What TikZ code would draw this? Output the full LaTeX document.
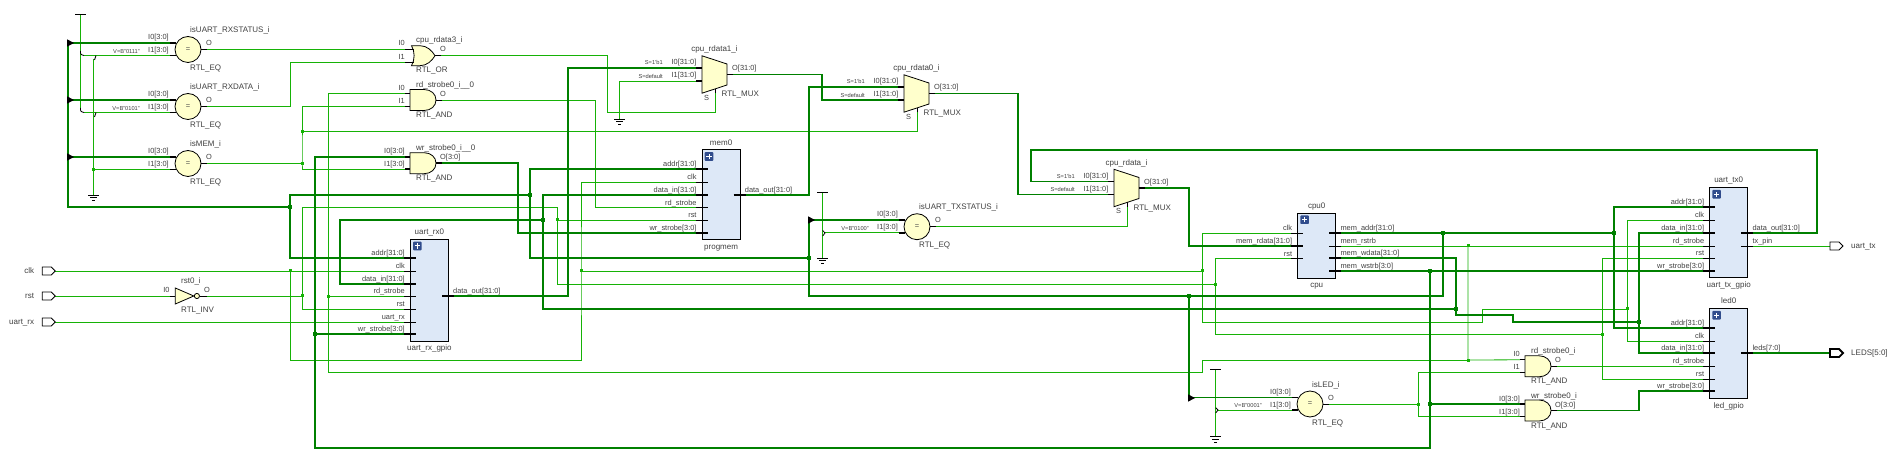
\documentclass[tikz,border=0pt]{standalone}
\usepackage{fontspec}
\setmainfont{Liberation Sans}
\usetikzlibrary{calc}
\catcode`\_=12
\pgfdeclarelayer{bg}
\pgfsetlayers{bg,main}
\definecolor{wireg}{RGB}{22,178,6}
\definecolor{busg}{RGB}{0,128,0}
\definecolor{txtg}{RGB}{64,64,64}
\definecolor{gatey}{RGB}{255,255,204}
\definecolor{blockb}{RGB}{221,232,247}
\definecolor{plusb}{RGB}{48,76,140}
\tikzset{
  x=1pt,y=-1pt,
  wire/.style={draw=wireg,line width=0.8pt,line join=miter},
  bus/.style={draw=busg,line width=1.8pt,line join=miter},
  stubthin/.style={draw=black,line width=0.8pt},
  stubthick/.style={draw=black,line width=1.8pt},
  body/.style={draw=black,line width=0.8pt,fill=gatey},
  eqbody/.style={circle,draw=black,line width=0.8pt,fill=gatey,minimum size=26pt,inner sep=0pt,text=txtg,font=\fontsize{7.5}{8}\selectfont},
  blockbody/.style={rectangle,draw=black,line width=0.8pt,fill=blockb,inner sep=0pt,anchor=north west},
  lab/.style={inner sep=0pt,text=txtg,text height=0.72em,text depth=0.2em},
  big/.style={lab,font=\fontsize{8}{9}\selectfont},
  pinl/.style={lab,font=\fontsize{7.4}{8}\selectfont},
  tiny/.style={lab,font=\fontsize{5.7}{6}\selectfont},
  jthin/.style={rectangle,fill=wireg,minimum size=3pt,inner sep=0pt},
  jbus/.style={rectangle,fill=busg,minimum size=4.4pt,inner sep=0pt},
  plusbox/.style={rectangle,rounded corners=0.8pt,fill=plusb,minimum size=8.6pt,inner sep=0pt},
  supply/.style={draw=black,line width=0.8pt},
}
% block: name, x0, y0, width, height, title, subtitle
\newcommand\bxblock[7]{%
  \node[blockbody,minimum width=#4pt,minimum height=#5pt] (#1) at (#2,#3) {};
  \node[big] (#1-t) at ([yshift=7pt]#1.north) {#6};
  \node[big] (#1-b) at ([yshift=-6.5pt]#1.south) {#7};
  \node[plusbox] (#1-p) at ([xshift=7.3pt,yshift=-7pt]#1.north west) {};
  \draw[white,line width=1pt] ([xshift=-2.6pt]#1-p.center) -- ([xshift=2.6pt]#1-p.center)
     ([yshift=-2.6pt]#1-p.center) -- ([yshift=2.6pt]#1-p.center);
}
% left pin: block, pin, x of left edge, y, label, stub style
\newcommand\bxpinl[6]{%
  \coordinate (#1-#2) at ({#3-6},#4);
  \draw[#6] (#1-#2) -- ({#3+6},#4);
  \node[pinl,anchor=east] (#1-#2-l) at ({#3-5},{#4-5}) {#5};
}
\newcommand\bxpinr[6]{%
  \coordinate (#1-#2) at ({#3+6},#4);
  \draw[#6] ({#3-6},#4) -- (#1-#2);
  \node[pinl,anchor=west] (#1-#2-l) at ({#3+5},{#4-5}) {#5};
}
% eq gate: name, x, y, title, V-label
\newcommand\eqgate[5]{%
  \begin{scope}[shift={(#2,#3)}]
    \node[eqbody] (#1) at (0,0) {=};
    \coordinate (#1-i0) at (-18,-6.5);
    \coordinate (#1-i1) at (-18,6);
    \coordinate (#1-o) at (19,0);
    \draw[stubthick] (#1-i0) -- (-12,-6.5);
    \draw[stubthick] (#1-i1) -- (-12,6);
    \draw[stubthin] (13,0) -- (#1-o);
    \node[pinl,anchor=east] (#1-l0) at (-19,-12.5) {I0[3:0]};
    \node[pinl,anchor=east] (#1-l1) at (-19,0.5) {I1[3:0]};
    \node[pinl,anchor=west] (#1-lo) at (18,-6.5) {O};
    \node[big,anchor=west] (#1-t) at (2,-19.5) {#4};
    \node[big,anchor=west] (#1-b) at (2,18.5) {RTL_EQ};
    \node[tiny,anchor=east] (#1-v) at (-48,1) {#5};
  \end{scope}
}
% and gate: name, x, y, title, I0 label, I1 label, O label, stub style
\newcommand\andgate[8]{%
  \begin{scope}[shift={(#2,#3)}]
    \draw[body] (0,-10.5) -- (14,-10.5) .. controls (21,-10.5) and (26,-6) .. (26,0)
       .. controls (26,6) and (21,10.5) .. (14,10.5) -- (0,10.5) -- cycle;
    \coordinate (#1-i0) at (-5,-6.5);
    \coordinate (#1-i1) at (-5,6);
    \coordinate (#1-o) at (32,0);
    \draw[#8] (#1-i0) -- (0,-6.5) (#1-i1) -- (0,6) (26,0) -- (#1-o);
    \node[pinl,anchor=east] (#1-l0) at (-5,-12) {#5};
    \node[pinl,anchor=east] (#1-l1) at (-5,1) {#6};
    \node[pinl,anchor=west] (#1-lo) at (30,-6) {#7};
    \node[big,anchor=west] (#1-t) at (6,-15) {#4};
    \node[big,anchor=west] (#1-b) at (6,15) {RTL_AND};
  \end{scope}
}
% or gate: name, x, y, title
\newcommand\orgate[4]{%
  \begin{scope}[shift={(#2,#3)}]
    \draw[body] (1.5,-10) -- (10,-10) .. controls (17,-10) and (22,-5) .. (25,0)
       .. controls (22,5) and (17,10) .. (10,10) -- (1.5,10)
       .. controls (5,4) and (5,-4) .. (1.5,-10) -- cycle;
    \coordinate (#1-i0) at (-5,-6.2);
    \coordinate (#1-i1) at (-5,6.3);
    \coordinate (#1-o) at (31,0);
    \draw[stubthin] (#1-i0) -- (3.5,-6.2) (#1-i1) -- (3.5,6.3) (25,0) -- (#1-o);
    \node[pinl,anchor=east] (#1-l0) at (-5,-12.7) {I0};
    \node[pinl,anchor=east] (#1-l1) at (-5,1) {I1};
    \node[pinl,anchor=west] (#1-lo) at (30,-6.7) {O};
    \node[big,anchor=west] (#1-t) at (6,-15.7) {#4};
    \node[big,anchor=west] (#1-b) at (6,14.3) {RTL_OR};
  \end{scope}
}
% mux: name, left x, centre y, title
\newcommand\muxgate[4]{%
  \begin{scope}[shift={(#2,#3)}]
    \draw[body] (0,-18.7) -- (25,-10.5) -- (25,10.5) -- (0,18.7) -- cycle;
    \coordinate (#1-i0) at (-6,-6.5);
    \coordinate (#1-i1) at (-6,6.5);
    \coordinate (#1-o) at (31,0);
    \coordinate (#1-s) at (13,19);
    \draw[stubthick] (#1-i0) -- (0,-6.5) (#1-i1) -- (0,6.5) (25,0) -- (#1-o);
    \draw[stubthin] (#1-s) -- (13,14.4);
    \node[pinl,anchor=east] (#1-l0) at (-5.5,-12.5) {I0[31:0]};
    \node[pinl,anchor=east] (#1-l1) at (-5.5,0.5) {I1[31:0]};
    \node[tiny,anchor=east] (#1-s0) at (-39,-12.5) {S=1'b1};
    \node[tiny,anchor=east] (#1-s1) at (-39,1) {S=default};
    \node[pinl,anchor=west] (#1-lo) at (30,-6.5) {O[31:0]};
    \node[pinl] (#1-ls) at (4.5,23) {S};
    \node[big,anchor=west] (#1-b) at (19.5,19.5) {RTL_MUX};
    \node[big] (#1-t) at (12.5,-25.5) {#4};
  \end{scope}
}
% ports: name, x, y, label, line width
\newcommand\inport[5]{%
  \begin{scope}[shift={(#2,#3)}]
    \draw[draw=black,line width=#5,fill=white] (0,-4) -- (9,-4) -- (13,0) -- (9,4) -- (0,4) -- cycle;
    \coordinate (#1) at (13,0);
    \node[big,anchor=east] (#1-l) at (-8,-0.5) {#4};
  \end{scope}
}
\newcommand\outport[5]{%
  \begin{scope}[shift={(#2,#3)}]
    \draw[draw=black,line width=#5,fill=white] (0,-4) -- (9,-4) -- (13,0) -- (9,4) -- (0,4) -- cycle;
    \coordinate (#1) at (0,0);
    \node[big,anchor=west] (#1-l) at (21,-0.2) {#4};
  \end{scope}
}
\newcommand\gndsym[3]{%
  \coordinate (#1) at (#2,#3);
  \draw[supply] ({#2-5.5},#3) -- ({#2+5.5},#3) ({#2-3.6},{#3+2.7}) -- ({#2+3.6},{#3+2.7}) ({#2-1.7},{#3+5.2}) -- ({#2+1.7},{#3+5.2});
}
\newcommand\vccsym[3]{%
  \coordinate (#1) at (#2,#3);
  \draw[supply] ({#2-5.5},#3) -- ({#2+5.5},#3);
}
\newcommand\bustri[1]{%
  \fill[black] ($(#1)+(-0.8,-3.6)$) -- ($(#1)+(6,0)$) -- ($(#1)+(-0.8,3.6)$) -- cycle;
}
\begin{document}
\begin{tikzpicture}
\useasboundingbox (0,0) rectangle (1890,454);

% ---------- ports
\inport{pclk}{42.3}{271}{clk}{0.8pt}
\inport{prst}{42.3}{296}{rst}{0.8pt}
\inport{prx}{42.3}{322}{uart_rx}{0.8pt}
\outport{ptx}{1830}{246}{uart_tx}{0.8pt}
\outport{pleds}{1830}{353}{LEDS[5:0]}{1.8pt}

% ---------- gates
\eqgate{eqa}{188}{49.5}{isUART_RXSTATUS_i}{V=B"0111"}
\eqgate{eqb}{188}{106.5}{isUART_RXDATA_i}{V=B"0101"}
\eqgate{eqm}{188}{163.5}{isMEM_i}{}
\eqgate{eqt}{917}{226.7}{isUART_TXSTATUS_i}{V=B"0100"}
\eqgate{eql}{1310}{404}{isLED_i}{V=B"0001"}

\orgate{ora}{410}{55.7}{cpu_rdata3_i}
\andgate{rda}{410}{100}{rd_strobe0_i__0}{I0}{I1}{O}{stubthin}
\andgate{wra}{410}{163.2}{wr_strobe0_i__0}{I0[3:0]}{I1[3:0]}{O[3:0]}{stubthick}
\andgate{rdb}{1525}{366.3}{rd_strobe0_i}{I0}{I1}{O}{stubthin}
\andgate{wrb}{1525}{410.5}{wr_strobe0_i}{I0[3:0]}{I1[3:0]}{O[3:0]}{stubthick}

\muxgate{muxb}{702}{74.5}{cpu_rdata1_i}
\muxgate{muxa}{904}{93.5}{cpu_rdata0_i}
\muxgate{muxi}{1114}{188}{cpu_rdata_i}

% inverter
\begin{scope}[shift={(175.3,296)}]
  \draw[body] (0,-8) -- (18.5,0) -- (0,8) -- cycle;
  \draw[body] (21.6,0) circle (2.6);
  \coordinate (inv-i) at (-5,0);
  \coordinate (inv-o) at (31.7,0);
  \draw[stubthin] (inv-i) -- (0,0) (24.2,0) -- (inv-o);
  \node[pinl,anchor=east] (inv-l0) at (-5.5,-6) {I0};
  \node[pinl,anchor=west] (inv-lo) at (28.7,-6) {O};
  \node[big,anchor=west] (inv-t) at (5.7,-15) {rst0_i};
  \node[big,anchor=west] (inv-b) at (5.7,14) {RTL_INV};
\end{scope}

% ---------- blocks
\bxblock{rx}{410}{239}{38}{102}{uart_rx0}{uart_rx_gpio}
\bxpinl{rx}{addr}{410}{258}{addr[31:0]}{stubthick}
\bxpinl{rx}{clk}{410}{271}{clk}{stubthin}
\bxpinl{rx}{din}{410}{284}{data_in[31:0]}{stubthick}
\bxpinl{rx}{rd}{410}{296.3}{rd_strobe}{stubthin}
\bxpinl{rx}{rst}{410}{309}{rst}{stubthin}
\bxpinl{rx}{urx}{410}{322}{uart_rx}{stubthin}
\bxpinl{rx}{wst}{410}{334}{wr_strobe[3:0]}{stubthick}
\bxpinr{rx}{dout}{448}{296}{data_out[31:0]}{stubthick}

\bxblock{mem}{701.7}{149.5}{38}{90}{mem0}{progmem}
\bxpinl{mem}{addr}{701.7}{169}{addr[31:0]}{stubthick}
\bxpinl{mem}{clk}{701.7}{182}{clk}{stubthin}
\bxpinl{mem}{din}{701.7}{195}{data_in[31:0]}{stubthick}
\bxpinl{mem}{rd}{701.7}{207.5}{rd_strobe}{stubthin}
\bxpinl{mem}{rst}{701.7}{220}{rst}{stubthin}
\bxpinl{mem}{wst}{701.7}{233}{wr_strobe[3:0]}{stubthick}
\bxpinr{mem}{dout}{739.7}{195}{data_out[31:0]}{stubthick}

\bxblock{cpu}{1297.3}{212.7}{38}{65}{cpu0}{cpu}
\bxpinl{cpu}{clk}{1297.3}{233}{clk}{stubthin}
\bxpinl{cpu}{rdata}{1297.3}{246}{mem_rdata[31:0]}{stubthick}
\bxpinl{cpu}{rst}{1297.3}{258.5}{rst}{stubthin}
\bxpinr{cpu}{addr}{1335.3}{233}{mem_addr[31:0]}{stubthick}
\bxpinr{cpu}{rstrb}{1335.3}{246}{mem_rstrb}{stubthin}
\bxpinr{cpu}{wdata}{1335.3}{258}{mem_wdata[31:0]}{stubthick}
\bxpinr{cpu}{wstrb}{1335.3}{271}{mem_wstrb[3:0]}{stubthick}

\bxblock{tx}{1709.3}{187.3}{38}{90}{uart_tx0}{uart_tx_gpio}
\bxpinl{tx}{addr}{1709.3}{207}{addr[31:0]}{stubthick}
\bxpinl{tx}{clk}{1709.3}{220}{clk}{stubthin}
\bxpinl{tx}{din}{1709.3}{233}{data_in[31:0]}{stubthick}
\bxpinl{tx}{rd}{1709.3}{246}{rd_strobe}{stubthin}
\bxpinl{tx}{rst}{1709.3}{258.3}{rst}{stubthin}
\bxpinl{tx}{wst}{1709.3}{271}{wr_strobe[3:0]}{stubthick}
\bxpinr{tx}{dout}{1747.3}{233}{data_out[31:0]}{stubthick}
\bxpinr{tx}{pin}{1747.3}{246}{tx_pin}{stubthin}

\bxblock{led}{1709.3}{308.3}{38}{90}{led0}{led_gpio}
\bxpinl{led}{addr}{1709.3}{328}{addr[31:0]}{stubthick}
\bxpinl{led}{clk}{1709.3}{341}{clk}{stubthin}
\bxpinl{led}{din}{1709.3}{353}{data_in[31:0]}{stubthick}
\bxpinl{led}{rd}{1709.3}{366.3}{rd_strobe}{stubthin}
\bxpinl{led}{rst}{1709.3}{379}{rst}{stubthin}
\bxpinl{led}{wst}{1709.3}{391}{wr_strobe[3:0]}{stubthick}
\bxpinr{led}{leds}{1747.3}{353}{leds[7:0]}{stubthick}

% ---------- supplies
\vccsym{vcca}{80.5}{14.5}
\gndsym{gnda}{93.5}{195}
\gndsym{gndm}{619.7}{119}
\vccsym{vcct}{822.7}{192.7}
\gndsym{gndt}{822.7}{258}
\vccsym{vccl}{1215.7}{369.5}
\gndsym{gndl}{1215.7}{436.7}

% ---------- junction positions
\coordinate (addrL) at (68,207);
\coordinate (jA1) at (290,207);
\coordinate (jA2) at (530,195);
\coordinate (jA3) at (809,258);
\coordinate (jA4) at (1189,296);
\coordinate (jA5) at (1443,233);
\coordinate (jA6) at (1614,233);
\coordinate (jD1) at (1456,309);
\coordinate (jD2) at (543,220);
\coordinate (jD3) at (1639,322);
\coordinate (jS1) at (1430,271);
\coordinate (jS2) at (315,334);
\coordinate (jS3) at (1430,404);
\coordinate (jC1) at (290,271);
\coordinate (jC2) at (581,271);
\coordinate (jC3) at (1202,271);
\coordinate (jC4) at (1627,309);
\coordinate (jR1) at (302,296);
\coordinate (jR2) at (557,220);
\coordinate (jR3) at (1215,284.3);
\coordinate (jR4) at (1602,334);
\coordinate (jM1) at (302,163.4);
\coordinate (jM2) at (302,131.3);
\coordinate (jB1) at (328,296.3);
\coordinate (jB2) at (1468,246);
\coordinate (jB3) at (1468,360);
\coordinate (jL) at (1418,404);
\coordinate (jG) at (93.5,169.5);

\begin{pgfonlayer}{bg}
\fill[white] (0,0) rectangle (1890,454);
% ---------- thin nets
\draw[wire] (pclk) -- (rx-clk);
\draw[wire] (jC1) -- (290,360) -| (jC2) |- (mem-clk);
\draw[wire] (jC2) -- (jC3);
\draw[wire] (cpu-clk) -| (jC3) -- (1202,322) -- (1482,322) -- (1482,309) -- (jC4);
\draw[wire] (tx-clk) -| (jC4) |- (led-clk);

\draw[wire] (prst) -- (inv-i);
\draw[wire] (inv-o) -- (jR1);
\draw[wire] (jR1) |- (rx-rst);
\draw[wire] (jR1) |- (557,207) -- (jR2);
\draw[wire] (jR2) -- (mem-rst);
\draw[wire] (jR2) |- (jR3);
\draw[wire] (cpu-rst) -| (jR3) -- (1215,334) -- (jR4);
\draw[wire] (tx-rst) -| (jR4) |- (led-rst);

\draw[wire] (prx) -- (rx-urx);

\draw[wire] (eqm-o) -- (jM1);
\draw[wire] (rda-i1) -| (jM1) |- (wra-i1);
\draw[wire] (jM2) -- (917,131.3) -- (muxa-s);

\draw[wire] (eqa-o) -- (ora-i0);
\draw[wire] (eqb-o) -- (290,106.5) |- (ora-i1);
\draw[wire] (ora-o) -- (607,55.7) |- (715,112.3) -- (muxb-s);
\draw[wire] (muxb-i1) -| (gndm);

\draw[wire] (rda-i0) -| (jB1) -- (rx-rd);
\draw[wire] (jB1) |- (1202,372) -- (1202,360) -- (jB3);
\draw[wire] (cpu-rstrb) -- (tx-rd);
\draw[wire] (jB2) -- (jB3) -- (rdb-i0);
\draw[wire] (rda-o) -- (595,100) |- (mem-rd);
\draw[wire] (eqt-o) -- (1127,226.7) -- (muxi-s);
\draw[wire] (eql-o) -- (jL);
\draw[wire] (rdb-i1) -| (jL) |- (wrb-i1);
\draw[wire] (rdb-o) -- (led-rd);
\draw[wire] (tx-pin) -- (ptx);

% constant ties
\draw[wire] (vcca) -- (80.5,110);
\draw[wire] (93.5,59) -- (gnda);
\draw[wire] (eqa-i1) -- (84,55.5);
\draw[wire] (eqb-i1) -- (84,112.5);
\draw[wire] (eqm-i1) -- (jG);
\draw[wire] (vcct) -- (gndt);
\draw[wire] (eqt-i1) -- (825,232.7);
\draw[wire] (vccl) -- (gndl);
\draw[wire] (eql-i1) -- (1218,410);

% ---------- bus nets
\draw[bus] (eqa-i0) -| (addrL) -- (jA1);
\draw[bus] (eqb-i0) -- (68,100);
\draw[bus] (eqm-i0) -- (68,157);
\draw[bus] (jA1) |- (jA2);
\draw[bus] (jA1) |- (rx-addr);
\draw[bus] (mem-addr) -| (jA2) |- (jA3);
\draw[bus] (eqt-i0) -| (jA3) |- (jA4);
\draw[bus] (jA4) -| (jA5);
\draw[bus] (jA4) |- (eql-i0);
\draw[bus] (cpu-addr) -- (jA6);
\draw[bus] (tx-addr) -| (jA6) |- (led-addr);

\draw[bus] (cpu-wdata) -| (jD1) -- (1456,314.8) -- (1513,314.8) -- (1513,322) -- (jD3);
\draw[bus] (mem-din) -| (jD2) |- (jD1);
\draw[bus] (jD2) -- (340,220) |- (rx-din);
\draw[bus] (tx-din) -| (jD3) |- (led-din);

\draw[bus] (cpu-wstrb) -- (tx-wst);
\draw[bus] (wra-i0) -| (jS2) -- (rx-wst);
\draw[bus] (jS2) |- (1430,448) -- (jS1);
\draw[bus] (jS3) -- (wrb-i0);

\draw[bus] (wra-o) -- (518,163.2) |- (mem-wst);
\draw[bus] (rx-dout) -- (568,296) |- (muxb-i0);
\draw[bus] (muxb-o) -- (822,74.5) |- (muxa-i1);
\draw[bus] (mem-dout) -- (809,195) |- (muxa-i0);
\draw[bus] (muxa-o) -- (1018,93.5) |- (muxi-i1);
\draw[bus] (tx-dout) -- (1817,233) |- (1031,150) |- (muxi-i0);
\draw[bus] (muxi-o) -- (1189,188) |- (cpu-rdata);
\draw[bus] (wrb-o) -- (1639,410.5) |- (led-wst);
\draw[bus] (led-leds) -- (pleds);
\end{pgfonlayer}

% ---------- constant-tie bends
\draw[supply] (80.5,51) .. controls (80.5,54.5) .. (84,55.5);
\draw[supply] (80.5,108) .. controls (80.5,111.5) .. (84,112.5);
\draw[supply] (94.5,60) .. controls (95,57) .. (96,55.5);
\draw[supply] (94.5,117) .. controls (95,114) .. (96,112.5);
\draw[supply] (822.7,230.5) -- (825,233) -- (822.7,236);
\draw[supply] (1215.7,407.7) -- (1218,410) -- (1215.7,413);

% ---------- bus rippers
\coordinate (triA) at (68,43);
\coordinate (triB) at (68,100);
\coordinate (triC) at (68,157);
\coordinate (triT) at (809,220);
\coordinate (triL) at (1189,398);
\bustri{triA}\bustri{triB}\bustri{triC}\bustri{triT}\bustri{triL}

% ---------- junction dots
\foreach \j in {jC1,jC2,jC3,jC4,jR1,jR2,jR3,jR4,jM1,jM2,jB1,jB2,jB3,jL,jG}
  \node[jthin] (dot-\j) at (\j) {};
\foreach \j in {jA1,jA2,jA3,jA4,jA5,jA6,jD1,jD2,jD3,jS1,jS2,jS3}
  \node[jbus] (dot-\j) at (\j) {};
\end{tikzpicture}
\end{document}
